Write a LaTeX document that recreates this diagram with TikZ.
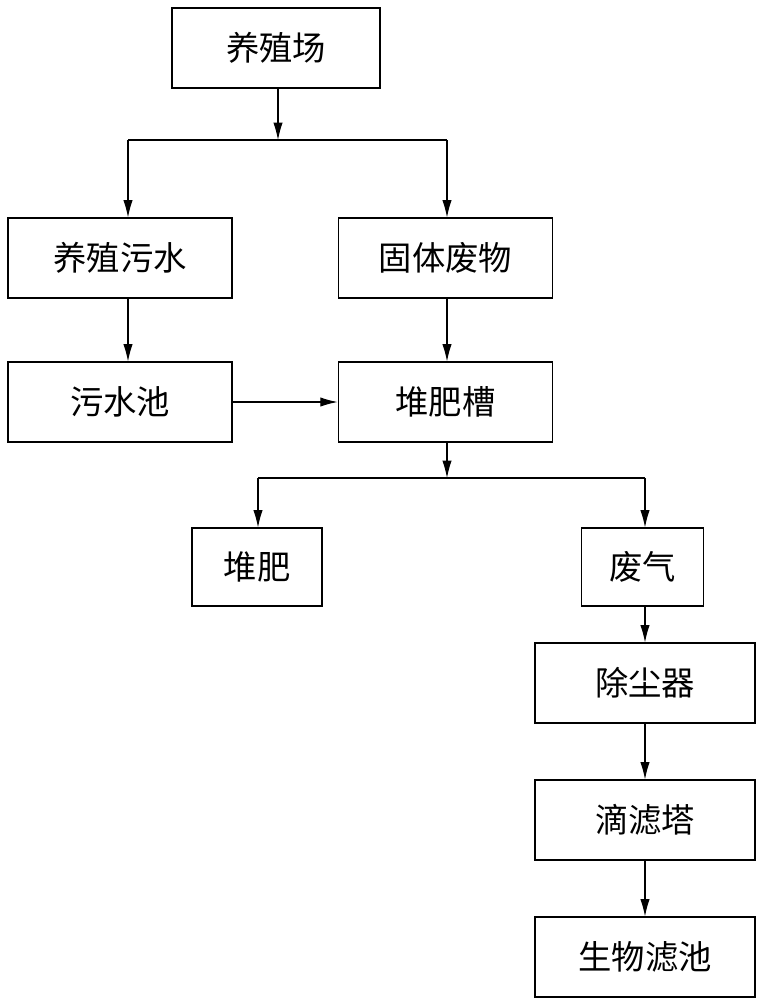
\documentclass[tikz,border=0pt]{standalone}
\usepackage{fontspec}
\newfontfamily\cjk{Noto Sans CJK SC}
\usetikzlibrary{arrows.meta}
\begin{document}
\begin{tikzpicture}[x=0.75pt,y=-0.75pt,
  box/.style={draw,line width=0.8pt,inner sep=0pt,font=\cjk\fontsize{25}{30}\selectfont},
  arr/.style={draw,line width=0.8pt,-{Latex[length=13pt,width=7pt]}},
  ln/.style={draw,line width=0.8pt}]
\useasboundingbox (0,0) rectangle (763,1000);
\node[box,minimum width=156pt,minimum height=60pt] (a) at (276,48) {养殖场};
\node[box,minimum width=168pt,minimum height=60pt] (b) at (120,258) {养殖污水};
\node[box,minimum width=161pt,minimum height=60pt] (c) at (445.5,258) {固体废物};
\node[box,minimum width=168pt,minimum height=60pt] (d) at (120,402) {污水池};
\node[box,minimum width=161pt,minimum height=60pt] (e) at (445.5,402) {堆肥槽};
\node[box,minimum width=97.5pt,minimum height=58.5pt] (f) at (257,567) {堆肥};
\node[box,minimum width=91pt,minimum height=58.5pt] (g) at (642.5,567) {废气};
\node[box,minimum width=165pt,minimum height=60pt] (h) at (645,683) {除尘器};
\node[box,minimum width=165pt,minimum height=60pt] (i) at (645,820) {滴滤塔};
\node[box,minimum width=165pt,minimum height=60pt] (j) at (645,957) {生物滤池};
\coordinate (s1) at (278,140);
\coordinate (s1l) at (128,140);
\coordinate (s1r) at (447,140);
\coordinate (s2) at (447,478);
\coordinate (s2l) at (258,478);
\coordinate (s2r) at (645,478);
\draw[arr] (a.south -| s1) -- (s1);
\draw[ln] (s1l) -- (s1r);
\draw[arr] (s1l) -- (s1l |- b.north);
\draw[arr] (s1r) -- (s1r |- c.north);
\draw[arr] (b.south -| s1l) -- (d.north -| s1l);
\draw[arr] (c.south -| s1r) -- (e.north -| s1r);
\draw[arr] (d.east) -- (e.west);
\draw[arr] (e.south -| s2) -- (s2);
\draw[ln] (s2l) -- (s2r);
\draw[arr] (s2l) -- (s2l |- f.north);
\draw[arr] (s2r) -- (s2r |- g.north);
\draw[arr] (g.south -| s2r) -- (h.north -| s2r);
\draw[arr] (h.south -| s2r) -- (i.north -| s2r);
\draw[arr] (i.south -| s2r) -- (j.north -| s2r);
\end{tikzpicture}
\end{document}
